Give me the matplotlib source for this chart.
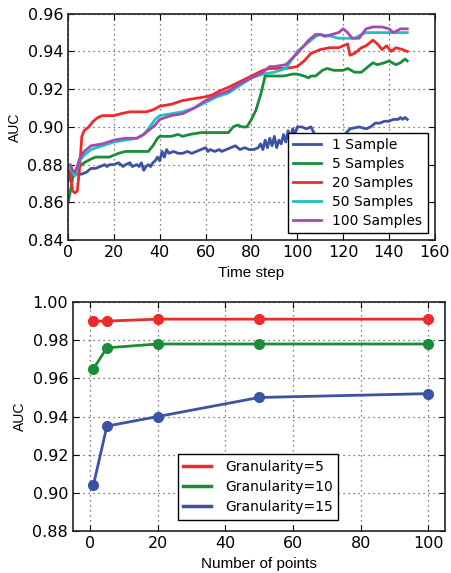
import matplotlib
matplotlib.use("Agg")
import matplotlib.pyplot as plt
from matplotlib.lines import Line2D

# top panel: AUC over time steps, (t, auc) pairs
one_sample = [(0,0.871),(1,0.876),(2,0.875),(4,0.875),(6,0.875),(8,0.876),(10,0.878),(12,0.878),
    (14,0.879),(16,0.880),(17,0.879),(18,0.880),(20,0.880),(22,0.881),(24,0.879),(25,0.880),
    (27,0.881),(28,0.879),(30,0.880),(31,0.879),(32,0.881),(33,0.877),(34,0.879),(35,0.880),
    (36,0.879),(37,0.881),(38,0.882),(39,0.884),(40,0.882),(41,0.887),(42,0.884),(43,0.888),
    (44,0.886),(46,0.887),(48,0.886),(50,0.886),(52,0.887),(54,0.886),(56,0.887),(58,0.888),
    (60,0.889),(61,0.887),(62,0.888),(64,0.887),(66,0.888),(67,0.887),(69,0.888),(71,0.889),
    (73,0.890),(75,0.888),(77,0.889),(79,0.888),(81,0.888),(83,0.889),(84,0.891),(85,0.888),
    (86,0.893),(87,0.889),(88,0.894),(89,0.890),(90,0.895),(91,0.889),(92,0.893),(93,0.891),
    (94,0.896),(95,0.892),(96,0.898),(97,0.894),(98,0.899),(99,0.896),(100,0.900),(102,0.900),
    (104,0.899),(106,0.900),(108,0.895),(112,0.894),(116,0.894),(120,0.895),(123,0.899),
    (127,0.900),(130,0.899),(132,0.900),(134,0.902),(136,0.902),(138,0.903),(140,0.903),
    (142,0.904),(144,0.904),(145,0.905),(146,0.904),(147,0.905),(148,0.904)]
five_samples = [(0,0.860),(1,0.866),(2,0.873),(3,0.876),(5,0.879),(7,0.881),(10,0.883),(12,0.884),
    (18,0.884),(20,0.885),(22,0.886),(25,0.887),(30,0.887),(35,0.887),(37,0.890),(39,0.894),
    (40,0.895),(45,0.895),(48,0.896),(50,0.895),(53,0.896),(58,0.897),(62,0.897),(68,0.897),
    (70,0.897),(72,0.900),(74,0.901),(76,0.900),(78,0.900),(80,0.904),(82,0.909),(84,0.917),
    (86,0.927),(90,0.927),(94,0.927),(98,0.928),(100,0.928),(103,0.927),(105,0.926),(106,0.927),
    (108,0.927),(111,0.930),(113,0.931),(116,0.930),(120,0.930),(122,0.931),(125,0.929),
    (128,0.929),(131,0.932),(133,0.934),(135,0.933),(138,0.934),(140,0.935),(143,0.933),
    (145,0.934),(147,0.936),(148,0.935)]
twenty_samples = [(0,0.878),(1,0.875),(2,0.866),(3,0.865),(4,0.866),(5,0.878),(6,0.895),(7,0.898),
    (9,0.900),(11,0.903),(13,0.905),(15,0.906),(20,0.906),(23,0.907),(27,0.908),(34,0.908),
    (37,0.909),(40,0.911),(45,0.912),(50,0.914),(55,0.915),(60,0.916),(63,0.917),(66,0.919),
    (70,0.921),(75,0.924),(80,0.927),(85,0.930),(88,0.931),(95,0.931),(100,0.932),(103,0.935),
    (106,0.939),(110,0.941),(114,0.942),(118,0.942),(120,0.943),(122,0.944),(123,0.938),
    (125,0.939),(128,0.942),(130,0.943),(133,0.946),(135,0.944),(137,0.941),(139,0.943),
    (141,0.940),(143,0.942),(146,0.941),(148,0.940)]
fifty_samples = [(0,0.880),(1,0.878),(2,0.876),(3,0.874),(4,0.878),(5,0.882),(7,0.885),(10,0.888),
    (15,0.890),(20,0.892),(25,0.893),(30,0.894),(33,0.896),(35,0.899),(38,0.904),(40,0.906),
    (45,0.907),(50,0.908),(55,0.910),(60,0.913),(65,0.916),(70,0.918),(75,0.922),(80,0.926),
    (85,0.928),(90,0.929),(95,0.931),(100,0.940),(105,0.945),(108,0.948),(110,0.949),(115,0.948),
    (118,0.947),(121,0.947),(125,0.947),(128,0.949),(130,0.950),(135,0.950),(140,0.950),(148,0.950)]
hundred_samples = [(0,0.879),(1,0.880),(2,0.877),(3,0.876),(4,0.879),(5,0.883),(7,0.887),(10,0.890),
    (15,0.891),(20,0.893),(25,0.894),(30,0.894),(33,0.896),(35,0.898),(38,0.901),(40,0.904),
    (45,0.906),(50,0.907),(55,0.910),(60,0.914),(65,0.917),(70,0.919),(75,0.923),(80,0.926),
    (85,0.929),(88,0.932),(90,0.932),(95,0.933),(100,0.939),(105,0.946),(108,0.949),(110,0.949),
    (112,0.948),(115,0.949),(118,0.950),(120,0.952),(122,0.950),(124,0.947),(127,0.947),
    (130,0.952),(133,0.953),(137,0.953),(140,0.952),(142,0.950),(145,0.952),(148,0.952)]

# bottom panel
n_points = [1, 5, 20, 50, 100]
gran5 = [0.990, 0.990, 0.991, 0.991, 0.991]
gran10 = [0.965, 0.976, 0.978, 0.978, 0.978]
gran15 = [0.904, 0.935, 0.940, 0.950, 0.952]

blue = "#3a53a4"
green = "#1a8c3a"
red = "#ee2a2a"
cyan = "#22c0c0"
purple = "#a34bb0"

plt.rcParams['font.family'] = ['DejaVu Sans']

fig = plt.figure(figsize=(4.51, 5.73), dpi=100)
ax1 = fig.add_axes([0.151, 0.581, 0.813, 0.395])
ax2 = fig.add_axes([0.162, 0.073, 0.825, 0.400])

top_series = [(one_sample, blue, "1 Sample"), (five_samples, green, "5 Samples"),
              (twenty_samples, red, "20 Samples"), (fifty_samples, cyan, "50 Samples"),
              (hundred_samples, purple, "100 Samples")]
for pts, c, lab in top_series:
    t, v = zip(*pts)
    ax1.plot(t, v, color=c, lw=2, label=lab)

ax1.set_xlim(0, 160)
ax1.set_ylim(0.84, 0.96)
ax1.set_xticks(range(0, 161, 20))
ax1.set_yticks([0.84, 0.86, 0.88, 0.90, 0.92, 0.94, 0.96])
ax1.set_xlabel("Time step", fontsize=11, family="Liberation Sans")
ax1.set_ylabel("AUC", fontsize=10, family="Liberation Sans")
leg1 = ax1.legend(loc="lower right", fontsize=10, fancybox=False, borderaxespad=0.5,
                  labelspacing=0.35, handlelength=2.0, handletextpad=0.8, framealpha=1)
leg1.get_frame().set_edgecolor("black")

ax2.plot(n_points, gran5, "-o", color=red, lw=2, ms=7)
ax2.plot(n_points, gran10, "-o", color=green, lw=2, ms=7)
ax2.plot(n_points, gran15, "-o", color=blue, lw=2, ms=7)
ax2.set_xlim(-5, 105)
ax2.set_ylim(0.88, 1.00)
ax2.set_yticks([0.88, 0.90, 0.92, 0.94, 0.96, 0.98, 1.00])
ax2.set_xticks([0, 20, 40, 60, 80, 100])
ax2.set_xlabel("Number of points", fontsize=11, family="Liberation Sans")
ax2.set_ylabel("AUC", fontsize=10, family="Liberation Sans")
handles = [Line2D([], [], color=red, lw=2.5), Line2D([], [], color=green, lw=2.5),
           Line2D([], [], color=blue, lw=2.5)]
leg2 = ax2.legend(handles, ["Granularity=5", "Granularity=10", "Granularity=15"],
                  loc="lower center", bbox_to_anchor=(0.497, 0.02), fontsize=10,
                  fancybox=False, labelspacing=0.45, handlelength=2.0, handletextpad=1.0,
                  framealpha=1)
leg2.get_frame().set_edgecolor("black")

for ax in (ax1, ax2):
    ax.grid(True, color="#555555", linestyle=(0, (1, 3)), linewidth=0.9)
    ax.tick_params(direction="in", top=True, right=True, length=4, labelsize=11.5)
    ax.yaxis.set_major_formatter(matplotlib.ticker.FormatStrFormatter("%.2f"))
    for s in ax.spines.values():
        s.set_linewidth(1.2)
        s.set_color("#222222")

fig.savefig("out.png", dpi=100)
